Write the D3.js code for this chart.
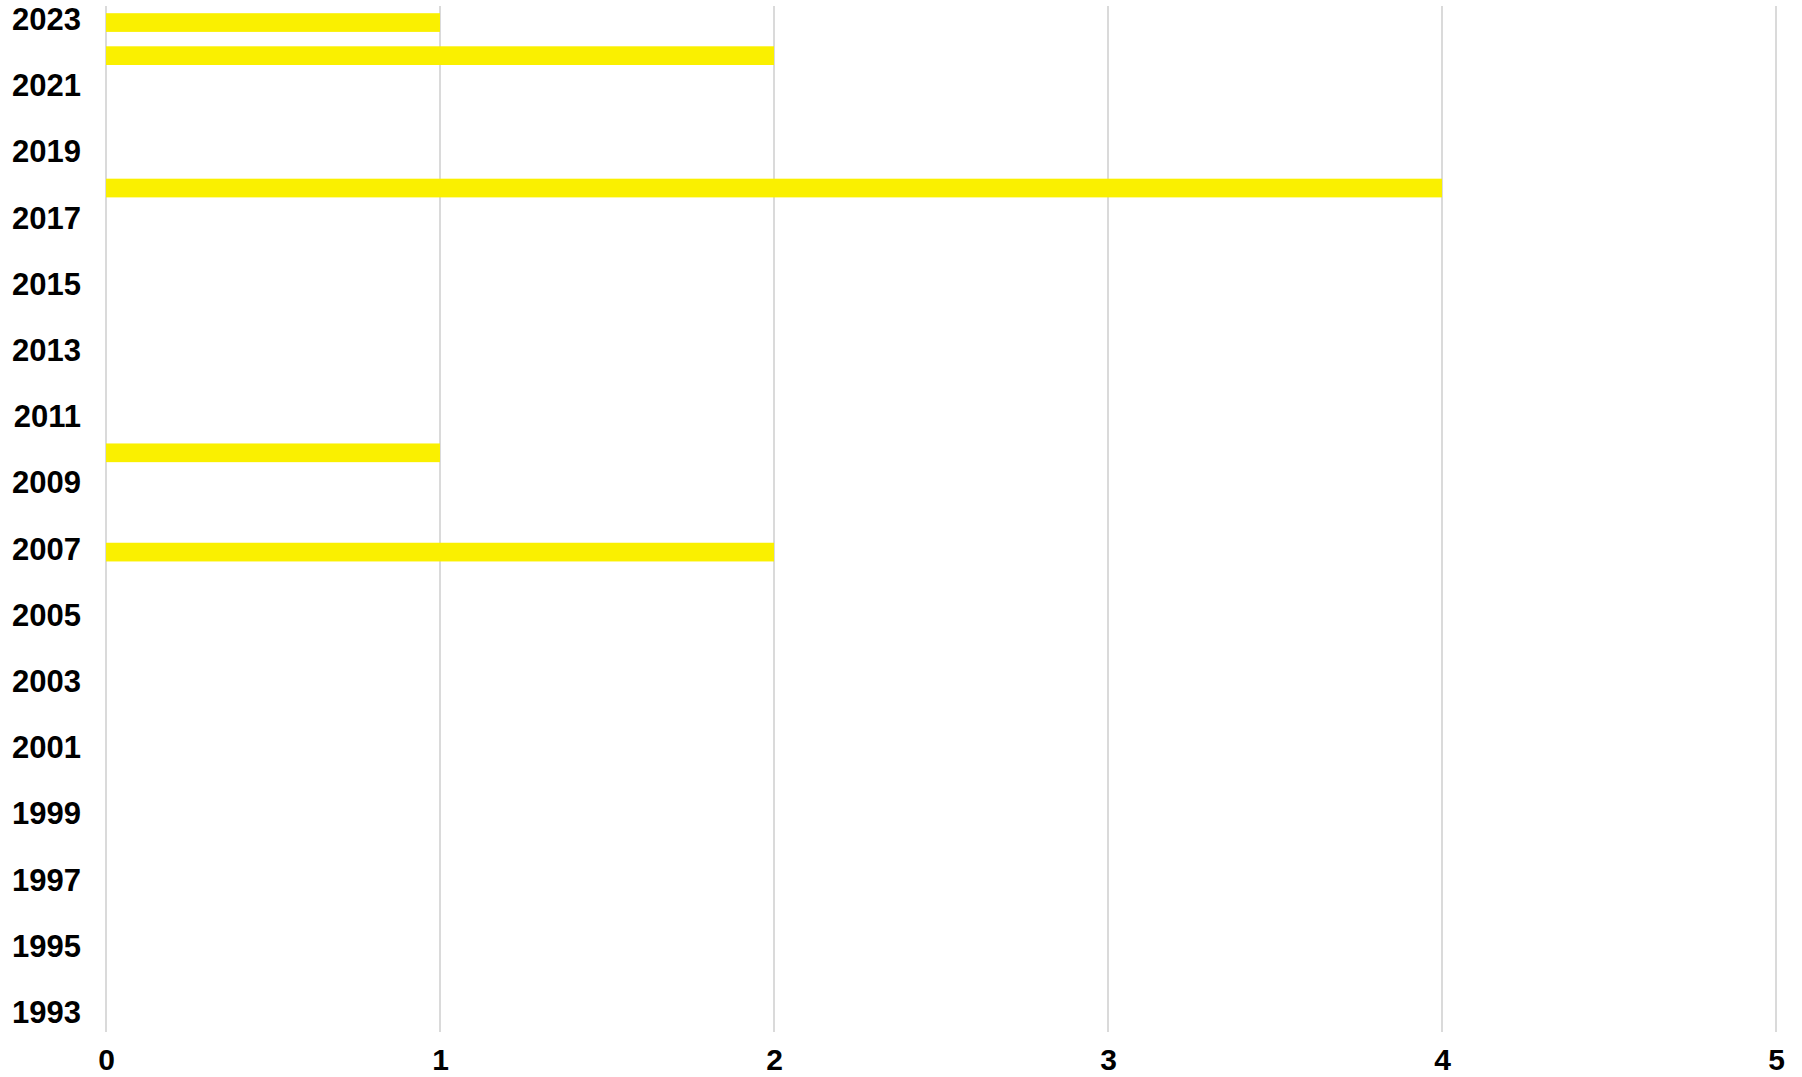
<!DOCTYPE html>
<html>
<head>
<meta charset="utf-8">
<script src="https://cdn.jsdelivr.net/npm/d3@7"></script>
<style>
  html, body { margin: 0; padding: 0; background: #fff; }
  svg text { font-family: "Liberation Sans", Arial, Helvetica, sans-serif; font-weight: bold; fill: #000; }
</style>
</head>
<body>
<div id="chart"></div>
<script>
// years shown on the category axis, newest at the top
var years = d3.range(1993, 2024);
// count per year (only non-zero years)
var counts = { 2007: 2, 2010: 1, 2018: 4, 2022: 2, 2023: 1 };
var xTicks = [0, 1, 2, 3, 4, 5];
var yTickLabels = years.filter(function(y){ return y % 2 === 1; });

var values = years.map(function(y){ return { year: y, value: counts[y] || 0 }; });

var width = 1802, height = 1077;
var margin = { top: 6, right: 26, bottom: 45, left: 106 };

var svg = d3.select("#chart").append("svg")
    .attr("width", width)
    .attr("height", height);

var x = d3.scaleLinear()
    .domain([0, 5])
    .range([margin.left, width - margin.right]);

var y = d3.scaleBand()
    .domain(years.slice().reverse())
    .range([margin.top, height - margin.bottom])
    .paddingInner(0.435)
    .paddingOuter(0.2175);

// vertical gridlines
svg.append("g")
    .selectAll("line")
    .data(xTicks)
    .join("line")
    .attr("x1", function(d){ return x(d); })
    .attr("x2", function(d){ return x(d); })
    .attr("y1", margin.top)
    .attr("y2", height - margin.bottom)
    .style("stroke", "#dadada")
    .style("stroke-width", "2px");

// bars
svg.append("g")
    .selectAll("rect")
    .data(values.filter(function(d){ return d.value > 0; }))
    .join("rect")
    .attr("x", x(0))
    .attr("y", function(d){ return y(d.year); })
    .attr("width", function(d){ return x(d.value) - x(0); })
    .attr("height", y.bandwidth())
    .style("fill", "#faf000");

// y labels
var yAxis = d3.axisLeft(y)
    .tickValues(yTickLabels)
    .tickSize(0)
    .tickPadding(25);

svg.append("g")
    .attr("transform", "translate(" + margin.left + ",0)")
    .call(yAxis)
    .call(function(g){ g.select(".domain").remove(); })
    .selectAll("text")
    .attr("dy", "0.24em")
    .style("font-size", "31px");

// x labels
var xAxis = d3.axisBottom(x)
    .tickValues(xTicks)
    .tickFormat(d3.format("d"))
    .tickSize(0)
    .tickPadding(17);

svg.append("g")
    .attr("transform", "translate(0," + (height - margin.bottom) + ")")
    .call(xAxis)
    .call(function(g){ g.select(".domain").remove(); })
    .selectAll("text")
    .style("font-size", "30px");
</script>
</body>
</html>
